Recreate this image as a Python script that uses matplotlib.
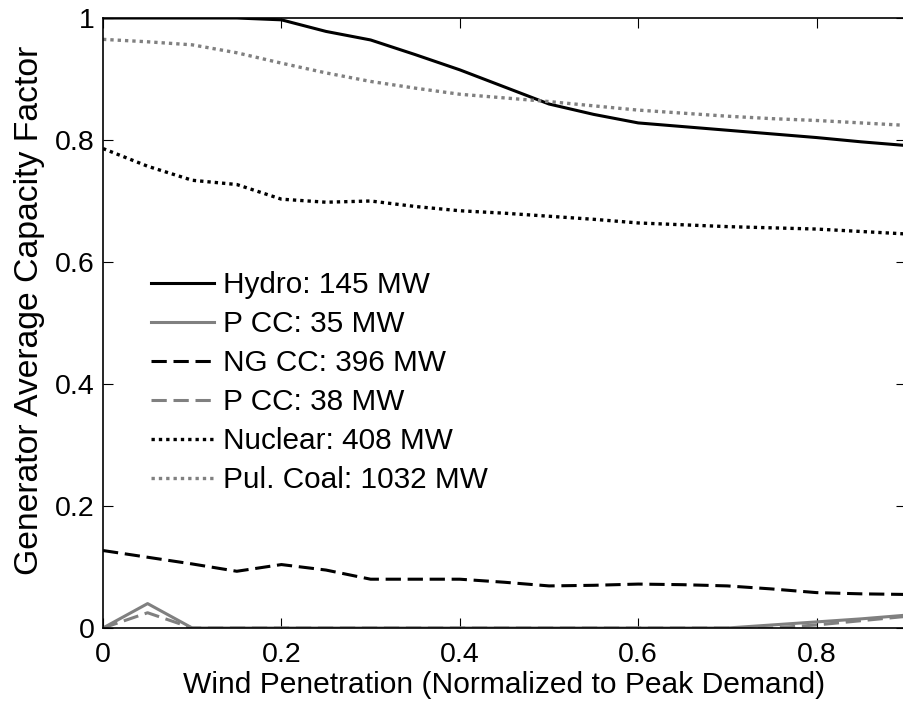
import matplotlib
matplotlib.use("Agg")
import matplotlib.pyplot as plt

plt.rcParams['font.family'] = ['Liberation Sans', 'DejaVu Sans']

x = [0, 0.05, 0.1, 0.15, 0.2, 0.25, 0.3, 0.35, 0.4, 0.45, 0.5, 0.55, 0.6, 0.65, 0.7, 0.75, 0.8, 0.85, 0.9]

hydro = [1.0, 1.0, 1.0, 1.0, 0.997, 0.978, 0.964, 0.940, 0.915, 0.887, 0.859, 0.842, 0.828, 0.822, 0.816, 0.810, 0.804, 0.797, 0.791]
pcc35 = [0.0, 0.040, 0.0, 0.0, 0.0, 0.0, 0.0, 0.0, 0.0, 0.0, 0.0, 0.0, 0.0, 0.0, 0.0, 0.005, 0.010, 0.015, 0.021]
ngcc = [0.127, 0.116, 0.105, 0.093, 0.104, 0.095, 0.080, 0.080, 0.080, 0.075, 0.069, 0.070, 0.072, 0.071, 0.069, 0.064, 0.058, 0.056, 0.055]
pcc38 = [0.0, 0.025, 0.0, 0.0, 0.0, 0.0, 0.0, 0.0, 0.0, 0.0, 0.0, 0.0, 0.0, 0.0, 0.0, 0.0, 0.005, 0.012, 0.019]
nuclear = [0.786, 0.757, 0.734, 0.727, 0.703, 0.698, 0.700, 0.691, 0.684, 0.680, 0.675, 0.670, 0.664, 0.661, 0.658, 0.656, 0.654, 0.650, 0.646]
coal = [0.965, 0.961, 0.956, 0.943, 0.926, 0.910, 0.896, 0.885, 0.875, 0.869, 0.863, 0.856, 0.849, 0.844, 0.839, 0.835, 0.832, 0.828, 0.824]

labels = ["Hydro: 145 MW", "P CC: 35 MW", "NG CC: 396 MW", "P CC: 38 MW",
          "Nuclear: 408 MW", "Pul. Coal: 1032 MW"]
xticks = [0, 0.2, 0.4, 0.6, 0.8]
xticklabels = ["0", "0.2", "0.4", "0.6", "0.8"]
yticks = [0, 0.2, 0.4, 0.6, 0.8, 1.0]
yticklabels = ["0", "0.2", "0.4", "0.6", "0.8", "1"]

fig = plt.figure(figsize=(9.04, 7.07), dpi=100)
ax = fig.add_axes([103/904, (707-628)/707, 1 - 103/904 + 0.002, (628-18)/707])

gray = '#808080'
dot = (0, (1, 1.2))
dash = (0, (5, 2.2))
ax.plot(x, hydro, color='black', lw=2.2, linestyle='-', label=labels[0])
ax.plot(x, pcc35, color=gray, lw=2.2, linestyle='-', label=labels[1])
ax.plot(x, ngcc, color='black', lw=2.2, linestyle=dash, label=labels[2])
ax.plot(x, pcc38, color=gray, lw=2.2, linestyle=dash, label=labels[3])
ax.plot(x, nuclear, color='black', lw=2.4, linestyle=dot, label=labels[4])
ax.plot(x, coal, color=gray, lw=2.4, linestyle=dot, label=labels[5])

ax.set_xlim(0, 0.9)
ax.set_ylim(0, 1)
ax.set_xticks(xticks)
ax.set_xticklabels(xticklabels)
ax.set_yticks(yticks)
ax.set_yticklabels(yticklabels)
ax.tick_params(direction='in', length=7, width=0.8, top=True, right=True,
               labelsize=20.5, pad=6)
ax.tick_params(axis='x', pad=10)
for s in ax.spines.values():
    s.set_linewidth(1.2)

ax.set_xlabel("Wind Penetration (Normalized to Peak Demand)", fontsize=21.6, labelpad=2)
ax.set_ylabel("Generator Average Capacity Factor", fontsize=24.3,
              va='center', ha='center')
ax.yaxis.set_label_coords(-0.092, 0.521)

leg = ax.legend(loc='upper left', bbox_to_anchor=(0.06, 0.585), frameon=False,
                fontsize=21.4, handlelength=2.1, handletextpad=0.3,
                labelspacing=0.37, borderpad=0, borderaxespad=0)

fig.savefig("out.png", dpi=100)
